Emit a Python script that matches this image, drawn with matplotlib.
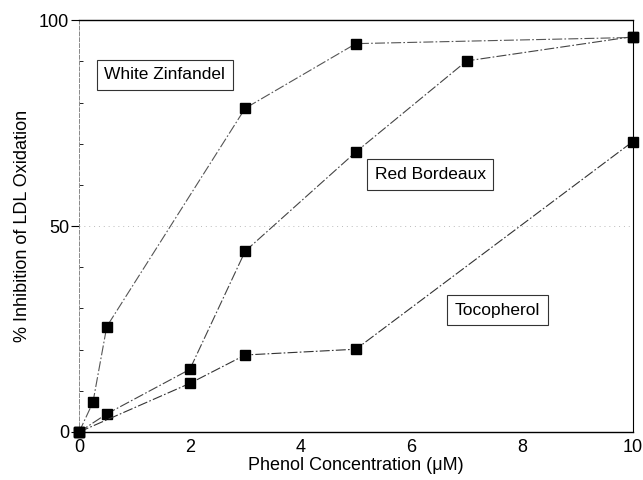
import numpy as np
import matplotlib.pyplot as plt

plt.rcParams['font.family'] = ['Liberation Sans', 'DejaVu Sans']

# data --------------------------------------------------------------------
zin_x = [0, 0.25, 0.5, 3, 5, 10]
zin_y = [0, 7.2, 25.6, 78.6, 94.3, 95.8]
bor_x = [0, 0.5, 2, 3, 5, 7, 10]
bor_y = [0, 4.4, 15.2, 43.9, 68.0, 90.1, 96.0]
toc_x = [0, 2, 3, 5, 10]
toc_y = [0, 11.8, 18.7, 20.1, 70.5]

x_ticks = [0, 2, 4, 6, 8, 10]
y_ticks = [0, 50, 100]
# -------------------------------------------------------------------------

fig = plt.figure(figsize=(6.43, 4.8), dpi=100)
ax = fig.add_axes([0.123, 0.1, 0.861, 0.858])

dash = (0, (9, 2, 1.5, 2))
for xs, ys, c in [(zin_x, zin_y, '#555555'), (bor_x, bor_y, '#444444'), (toc_x, toc_y, '#333333')]:
    ax.plot(xs, ys, color=c, lw=0.8, linestyle=dash, marker='s', ms=7,
            mfc='black', mec='black', clip_on=False, zorder=3)

ax.axhline(50, color='#bbbbbb', lw=0.7, linestyle=(0, (1, 4)), zorder=1)

box = dict(boxstyle='square,pad=0.45', fc='white', ec='#333333', lw=0.8)
ax.text(1.55, 86.7, 'White Zinfandel', ha='center', va='center', fontsize=12.5, bbox=box)
ax.text(6.34, 62.6, 'Red Bordeaux', ha='center', va='center', fontsize=12.5, bbox=box)
ax.text(7.55, 29.6, 'Tocopherol', ha='center', va='center', fontsize=12.5, bbox=box)

ax.set_xlim(0, 10)
ax.set_ylim(0, 100)
ax.set_xticks(x_ticks)
ax.set_yticks(y_ticks)
ax.set_yticks(np.arange(10, 100, 10), minor=True)
ax.tick_params(axis='x', length=0, labelsize=13, pad=5)
ax.tick_params(axis='y', which='major', length=6, labelsize=13, pad=1)
ax.tick_params(axis='y', which='minor', length=3, direction='in')

ax.spines['left'].set_color('#888888')
ax.spines['left'].set_linestyle((0, (4, 2)))
ax.spines['left'].set_linewidth(0.7)
ax.spines['top'].set_linewidth(1.0)
ax.spines['right'].set_linewidth(0.8)
ax.spines['bottom'].set_linewidth(1.0)

ax.set_xlabel('Phenol Concentration (\u03bcM)', fontsize=13, labelpad=1)
ax.set_ylabel('% Inhibition of LDL Oxidation', fontsize=13, labelpad=6)

fig.savefig('out.png', dpi=100)
